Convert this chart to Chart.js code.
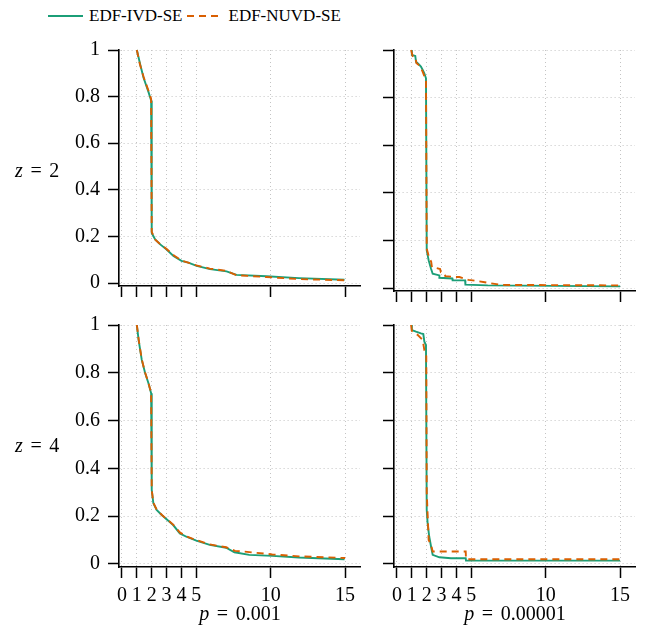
<!DOCTYPE html>
<html>
<head>
<meta charset="utf-8">
<script src="https://cdn.jsdelivr.net/npm/chart.js@4"></script>
<style>
  body { margin: 0; background: #fff; }
  #wrap { position: relative; width: 648px; height: 628px; font-family: "Liberation Serif", "DejaVu Serif", serif; color: #000; }
  canvas { position: absolute; }
  .lbl { position: absolute; font-size: 20px; white-space: nowrap; line-height: 1; }
  .lbl i { font-style: italic; }
  .eq { margin: 0 0.38em; }
  #legend { position: absolute; left: 48px; top: 6px; font-size: 17px; line-height: 20px; display: flex; align-items: center; white-space: nowrap; }
  #legend svg { display: block; }
</style>
</head>
<body>
<div id="wrap">
  <div id="legend">
    <svg width="36" height="20"><line x1="0" y1="10" x2="35" y2="10" stroke="#1b9e77" stroke-width="1.8"/></svg>
    <span style="margin:0 4px 0 5px">EDF-IVD-SE</span>
    <svg width="34" height="20"><line x1="0" y1="10" x2="33" y2="10" stroke="#d95f02" stroke-width="1.8" stroke-dasharray="7,5"/></svg>
    <span style="margin-left:8px">EDF-NUVD-SE</span>
  </div>

  <canvas id="chartA" width="368" height="306" style="left:0;top:0"></canvas>
  <canvas id="chartB" width="278" height="306" style="left:370px;top:0"></canvas>
  <canvas id="chartC" width="368" height="328" style="left:0;top:300px"></canvas>
  <canvas id="chartD" width="278" height="328" style="left:370px;top:300px"></canvas>

  <div class="lbl" style="left:15px;top:160px"><i>z</i><span class="eq">=</span>2</div>
  <div class="lbl" style="left:15px;top:435px"><i>z</i><span class="eq">=</span>4</div>
  <div class="lbl" style="left:240px;top:603px;transform:translateX(-50%)"><i>p</i><span class="eq">=</span>0.001</div>
  <div class="lbl" style="left:515px;top:603px;transform:translateX(-50%)"><i>p</i><span class="eq">=</span>0.00001</div>
</div>

<script>
// axis ticks
const xTicks = [0, 1, 2, 3, 4, 5, 10, 15];
const yTicks = [0, 0.2, 0.4, 0.6, 0.8, 1];

// z = 2, p = 0.001
const ivdX_z2_p3 = [1.0, 1.23, 1.45, 1.79, 1.96, 2.0, 2.23, 2.57, 3.0, 3.46, 4.0, 4.46, 5.02, 5.92, 7.03, 7.7, 9.7, 11.9, 14.96];
const ivdY_z2_p3 = [1.0, 0.937, 0.881, 0.818, 0.783, 0.215, 0.187, 0.166, 0.144, 0.116, 0.095, 0.088, 0.074, 0.06, 0.05, 0.035, 0.029, 0.021, 0.014];
const nuvdX_z2_p3 = [1.0, 1.2, 1.45, 1.8, 1.96, 2.0, 2.25, 2.6, 3.0, 3.5, 4.0, 4.5, 5.0, 5.9, 7.0, 7.7, 9.7, 11.9, 15.0];
const nuvdY_z2_p3 = [1.0, 0.94, 0.885, 0.822, 0.79, 0.22, 0.185, 0.165, 0.146, 0.118, 0.097, 0.087, 0.076, 0.062, 0.053, 0.034, 0.026, 0.017, 0.012];

// z = 2, p = 0.00001
const ivdX_z2_p5 = [1.0, 1.0, 1.23, 1.28, 1.46, 1.61, 1.73, 1.84, 1.95, 2.0, 2.13, 2.29, 2.4, 2.85, 2.85, 3.72, 3.74, 4.58, 4.6, 6.1, 15.0];
const ivdY_z2_p5 = [1.0, 0.979, 0.975, 0.951, 0.941, 0.93, 0.916, 0.902, 0.881, 0.158, 0.116, 0.081, 0.06, 0.053, 0.043, 0.04, 0.032, 0.032, 0.014, 0.011, 0.007];
const nuvdX_z2_p5 = [0.95, 1.05, 1.25, 1.3, 1.5, 1.65, 1.75, 1.84, 1.95, 2.0, 2.15, 2.3, 2.35, 2.9, 2.95, 3.2, 3.25, 3.9, 4.2, 4.8, 5.1, 5.9, 6.1, 7.0, 15.0];
const nuvdY_z2_p5 = [1.0, 0.975, 0.97, 0.945, 0.935, 0.92, 0.905, 0.89, 0.87, 0.165, 0.13, 0.11, 0.088, 0.08, 0.066, 0.06, 0.05, 0.046, 0.046, 0.034, 0.032, 0.024, 0.022, 0.013, 0.011];

// z = 4, p = 0.001
const ivdX_z4_p3 = [1.0, 1.12, 1.33, 1.56, 1.78, 1.96, 2.0, 2.11, 2.33, 2.67, 3.0, 3.44, 3.89, 4.33, 5.0, 5.9, 7.0, 7.56, 8.56, 10.1, 11.9, 14.96];
const ivdY_z4_p3 = [1.0, 0.937, 0.854, 0.798, 0.756, 0.714, 0.31, 0.254, 0.226, 0.205, 0.187, 0.163, 0.128, 0.114, 0.098, 0.08, 0.068, 0.049, 0.038, 0.034, 0.027, 0.02];
const nuvdX_z4_p3 = [1.0, 1.12, 1.33, 1.56, 1.78, 1.96, 2.0, 2.11, 2.33, 2.67, 3.0, 3.44, 3.89, 4.33, 5.0, 5.9, 7.0, 7.6, 8.2, 10.1, 11.9, 15.0];
const nuvdY_z4_p3 = [1.0, 0.94, 0.856, 0.8, 0.758, 0.716, 0.31, 0.256, 0.228, 0.206, 0.188, 0.165, 0.132, 0.116, 0.1, 0.082, 0.07, 0.055, 0.052, 0.04, 0.032, 0.025];

// z = 4, p = 0.00001
const ivdX_z4_p5 = [1.0, 1.0, 1.28, 1.61, 1.77, 1.84, 1.95, 2.0, 2.06, 2.17, 2.29, 2.4, 2.85, 3.63, 4.62, 4.64, 15.0];
const ivdY_z4_p5 = [1.0, 0.979, 0.972, 0.965, 0.962, 0.93, 0.916, 0.226, 0.17, 0.114, 0.073, 0.038, 0.028, 0.024, 0.024, 0.014, 0.014];
const nuvdX_z4_p5 = [0.95, 1.0, 1.4, 1.73, 1.84, 1.97, 2.0, 2.13, 2.29, 2.4, 3.3, 4.62, 4.64, 15.0];
const nuvdY_z4_p5 = [1.0, 0.975, 0.958, 0.937, 0.895, 0.87, 0.3, 0.1, 0.08, 0.052, 0.052, 0.052, 0.02, 0.02];

const GREEN = '#1b9e77';
const ORANGE = '#d95f02';
const FONT = { family: '"Liberation Serif", "DejaVu Serif", serif', size: 20 };

function toPoints(xs, ys) {
    return xs.map((x, i) => ({ x: x, y: ys[i] }));
}

function makePanel(id, ivd, nuvd, opts) {
    return new Chart(document.getElementById(id), {
        type: 'line',
        data: {
            datasets: [
                {
                    label: 'EDF-IVD-SE',
                    data: toPoints(ivd[0], ivd[1]),
                    borderColor: GREEN,
                    borderWidth: 1.9,
                    pointRadius: 0,
                    tension: 0,
                    clip: 4,
                    order: 1
                },
                {
                    label: 'EDF-NUVD-SE',
                    data: toPoints(nuvd[0], nuvd[1]),
                    borderColor: ORANGE,
                    borderWidth: 1.9,
                    borderDash: [7, 5],
                    pointRadius: 0,
                    tension: 0,
                    clip: 4,
                    order: 0
                }
            ]
        },
        options: {
            responsive: false,
            animation: false,
            events: [],
            layout: { padding: opts.padding },
            plugins: { legend: { display: false }, tooltip: { enabled: false } },
            scales: {
                x: {
                    type: 'linear',
                    min: -0.2,
                    max: 16,
                    afterBuildTicks: function(scale) {
                        scale.ticks = xTicks.map(v => ({ value: v }));
                    },
                    afterFit: function(scale) { scale.height = opts.xHeight; },
                    ticks: {
                        display: opts.xLabels,
                        autoSkip: false,
                        maxRotation: 0,
                        padding: 6,
                        color: '#000',
                        font: FONT
                    },
                    grid: {
                        color: '#c4c4c4',
                        lineWidth: 1,
                        tickColor: '#000',
                        tickLength: 11,
                        tickWidth: 1.5
                    },
                    border: { display: true, color: '#000', width: 1.6, dash: [1, 3] }
                },
                y: {
                    type: 'linear',
                    min: -0.0126,
                    max: 1,
                    afterBuildTicks: function(scale) {
                        scale.ticks = yTicks.map(v => ({ value: v }));
                    },
                    afterFit: function(scale) { scale.width = opts.yWidth; },
                    ticks: {
                        display: opts.yLabels,
                        padding: 8,
                        color: '#000',
                        font: FONT,
                        callback: v => String(v)
                    },
                    grid: {
                        color: '#c4c4c4',
                        lineWidth: 1,
                        tickColor: '#000',
                        tickLength: 11,
                        tickWidth: 1.5
                    },
                    border: { display: true, color: '#000', width: 1.6, dash: [1, 3] }
                }
            }
        }
    });
}

makePanel('chartA', [ivdX_z2_p3, ivdY_z2_p3], [nuvdX_z2_p3, nuvdY_z2_p3],
    { padding: { top: 50, right: 8, left: 0, bottom: 0 }, xHeight: 15, yWidth: 119, xLabels: false, yLabels: true });
makePanel('chartB', [ivdX_z2_p5, ivdY_z2_p5], [nuvdX_z2_p5, nuvdY_z2_p5],
    { padding: { top: 50, right: 13, left: 0, bottom: 0 }, xHeight: 15, yWidth: 24, xLabels: false, yLabels: false });
makePanel('chartC', [ivdX_z4_p3, ivdY_z4_p3], [nuvdX_z4_p3, nuvdY_z4_p3],
    { padding: { top: 25, right: 8, left: 0, bottom: 0 }, xHeight: 61, yWidth: 119, xLabels: true, yLabels: true });
makePanel('chartD', [ivdX_z4_p5, ivdY_z4_p5], [nuvdX_z4_p5, nuvdY_z4_p5],
    { padding: { top: 25, right: 13, left: 0, bottom: 0 }, xHeight: 61, yWidth: 24, xLabels: true, yLabels: false });
</script>
</body>
</html>
